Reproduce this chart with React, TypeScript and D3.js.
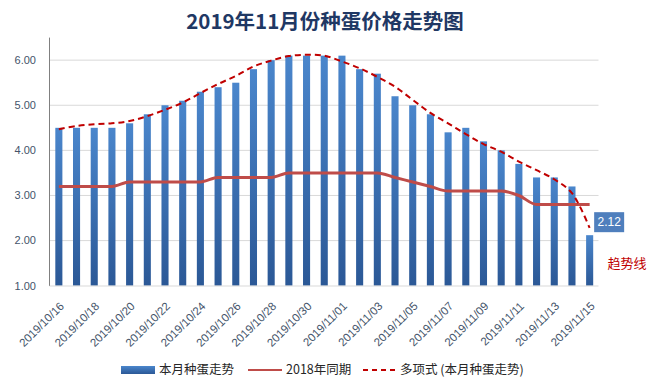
import * as d3 from "d3";

const dates = [
  "2019/10/16", "2019/10/17", "2019/10/18", "2019/10/19", "2019/10/20", "2019/10/21",
  "2019/10/22", "2019/10/23", "2019/10/24", "2019/10/25", "2019/10/26", "2019/10/27",
  "2019/10/28", "2019/10/29", "2019/10/30", "2019/10/31", "2019/11/01", "2019/11/02",
  "2019/11/03", "2019/11/04", "2019/11/05", "2019/11/06", "2019/11/07", "2019/11/08",
  "2019/11/09", "2019/11/10", "2019/11/11", "2019/11/12", "2019/11/13", "2019/11/14",
  "2019/11/15",
];

// 本月种蛋走势
const thisMonth = [
  4.5, 4.5, 4.5, 4.5, 4.6, 4.8, 5.0, 5.1, 5.3, 5.4, 5.5, 5.8, 6.0, 6.1, 6.1, 6.1,
  6.1, 5.8, 5.7, 5.2, 5.0, 4.8, 4.4, 4.5, 4.2, 4.0, 3.7, 3.4, 3.4, 3.2, 2.12,
];

// 2018年同期
const lastYear = [
  3.2, 3.2, 3.2, 3.2, 3.3, 3.3, 3.3, 3.3, 3.3, 3.4, 3.4, 3.4, 3.4, 3.5, 3.5, 3.5,
  3.5, 3.5, 3.5, 3.4, 3.3, 3.2, 3.1, 3.1, 3.1, 3.1, 3.0, 2.8, 2.8, 2.8, 2.8,
];

// 多项式 (本月种蛋走势)
const trend = [
  4.47, 4.54, 4.58, 4.6, 4.65, 4.76, 4.9, 5.06, 5.27, 5.47, 5.65, 5.86, 5.99, 6.09, 6.12, 6.1,
  5.97, 5.82, 5.63, 5.41, 5.12, 4.83, 4.6, 4.36, 4.14, 3.97, 3.75, 3.56, 3.36, 3.05, 2.28,
];

const yTicks = [1, 2, 3, 4, 5, 6];

const W = 655;
const H = 389;

const App = () => {
  const x = d3.scaleBand().domain(dates).range([50, 598.5]).paddingInner(0.6).paddingOuter(0.3);
  const y = d3.scaleLinear().domain([1, 6.5]).range([285.7, 37.6]);
  const cx = (i) => (x(dates[i]) ?? 0) + x.bandwidth() / 2;

  const lastYearLine = d3.line<number>().x((_, i) => cx(i)).y((d) => y(d)).curve(d3.curveMonotoneX);
  const trendLine = d3.line<number>().x((_, i) => cx(i)).y((d) => y(d)).curve(d3.curveCatmullRom);

  const lastI = dates.length - 1;
  const font = "'Liberation Sans', Arial, sans-serif";
  const cjk = "'Noto Sans CJK SC', 'Liberation Sans', sans-serif";

  return (
    <svg width={W} height={H} style={{ display: "block", position: "absolute", left: 0, top: 0, background: "#fff" }}>
      <defs>
        <linearGradient id="barGrad" x1="0" y1="0" x2="0" y2="1">
          <stop offset="0%" stopColor="#4a86cc" />
          <stop offset="100%" stopColor="#2b5896" />
        </linearGradient>
      </defs>

      <text x={325} y={29} textAnchor="middle" fontFamily={cjk} fontWeight="bold" fontSize={20.5} fill="#1f3864">
        2019年11月份种蛋价格走势图
      </text>

      {/* gridlines + y labels */}
      {yTicks.map((t) => (
        <g key={t}>
          {t > 1 && <line x1={50} x2={598.5} y1={y(t)} y2={y(t)} stroke="#d9d9d9" strokeWidth={1} />}
          <text x={36} y={y(t)} dy="0.35em" textAnchor="end" fontFamily={font} fontSize={11} fill="#44546a">
            {t.toFixed(2)}
          </text>
        </g>
      ))}

      {/* bars */}
      {thisMonth.map((v, i) => (
        <rect key={i} x={x(dates[i])} y={y(v)} width={x.bandwidth()} height={y(1) - y(v)} fill="url(#barGrad)" />
      ))}

      {/* axes */}
      <line x1={49.5} x2={49.5} y1={37.6} y2={286} stroke="#808080" strokeWidth={1} />
      <line x1={49.5} x2={598.5} y1={286} y2={286} stroke="#d9d9d9" strokeWidth={1} />

      {/* 2018 line */}
      <path d={lastYearLine(lastYear) ?? ""} fill="none" stroke="#bf4c49" strokeWidth={3} />
      {/* polynomial trend */}
      <path d={trendLine(trend) ?? ""} fill="none" stroke="#c00000" strokeWidth={2} strokeDasharray="6,4" />

      {/* x labels */}
      {dates.map((d, i) =>
        i % 2 === 0 ? (
          <text
            key={d}
            transform={`translate(${cx(i) + 3},${304}) rotate(-45)`}
            dy="0.35em"
            textAnchor="end"
            fontFamily={font}
            fontSize={11.5}
            fill="#44546a"
          >
            {d}
          </text>
        ) : null
      )}

      {/* data label for last bar */}
      <rect x={cx(lastI) + 4.5} y={y(2.12) - 23} width={30} height={20} fill="#4f7fbd" />
      <text x={cx(lastI) + 19.5} y={y(2.12) - 13} dy="0.35em" textAnchor="middle" fontFamily={font} fontSize={12} fill="#fff">
        {thisMonth[lastI].toFixed(2)}
      </text>
      <text x={627} y={263} dy="0.35em" textAnchor="middle" fontFamily={cjk} fontSize={13} fill="#c00000">
        趋势线
      </text>

      {/* legend */}
      <rect x={121} y={366} width={34} height={8} fill="url(#barGrad)" />
      <text x={159} y={370} dy="0.35em" fontFamily={cjk} fontSize={12.5} fill="#262626">
        本月种蛋走势
      </text>
      <line x1={248} x2={282} y1={370} y2={370} stroke="#bf4c49" strokeWidth={2} />
      <text x={286} y={370} dy="0.35em" fontFamily={cjk} fontSize={12.5} fill="#262626">
        2018年同期
      </text>
      <line x1={363} x2={397} y1={370} y2={370} stroke="#c00000" strokeWidth={2} strokeDasharray="5,4" />
      <text x={400} y={370} dy="0.35em" fontFamily={cjk} fontSize={12.5} fill="#262626">
        多项式 (本月种蛋走势)
      </text>
    </svg>
  );
};

export default App;
